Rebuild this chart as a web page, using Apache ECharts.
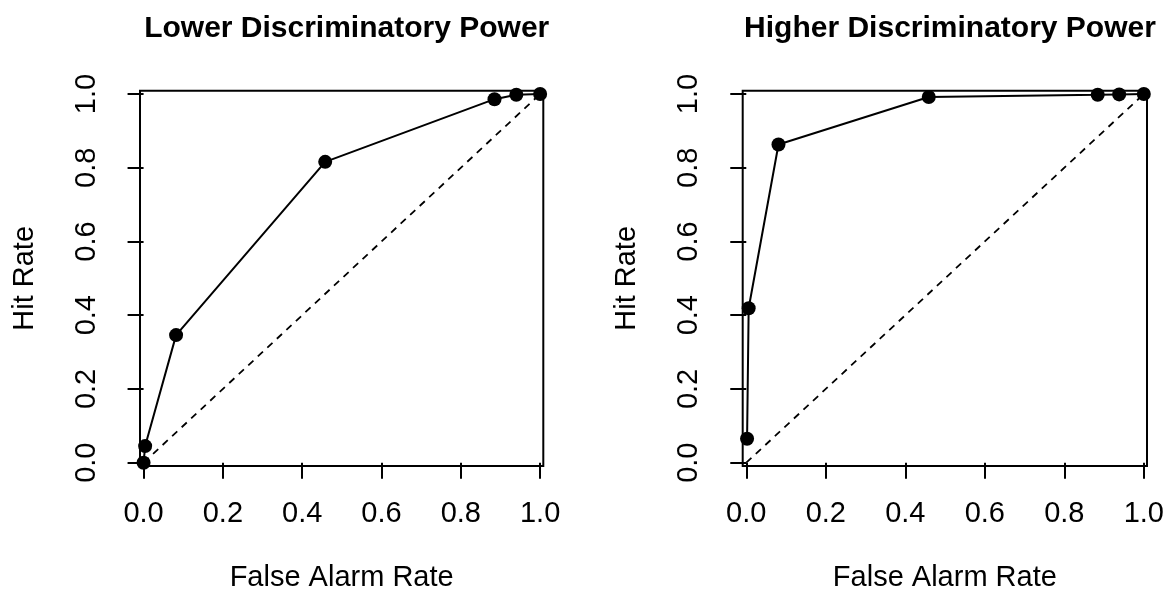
<!DOCTYPE html>
<html>
<head>
<meta charset="utf-8">
<script src="https://cdn.jsdelivr.net/npm/echarts@6/dist/echarts.min.js"></script>
<style>
	html, body { margin: 0; padding: 0; background: #fff; }
	#main { width: 1171px; height: 597px; }
</style>
</head>
<body>
<div id="main"></div>
<script>
	// ROC points, left panel
	var lowerFar = [0, 0.004, 0.082, 0.458, 0.885, 0.94, 1];
	var lowerHit = [0, 0.045, 0.346, 0.816, 0.986, 0.998, 1];

	// ROC points, right panel
	var higherFar = [0.002, 0.006, 0.081, 0.459, 0.884, 0.938, 1];
	var higherHit = [0.065, 0.419, 0.863, 0.992, 0.998, 0.999, 1];

	// chance diagonal
	var diagFar = [0, 1];
	var diagHit = [0, 1];

	var ticks = [0, 0.2, 0.4, 0.6, 0.8, 1.0];
	var titles = ['Lower Discriminatory Power', 'Higher Discriminatory Power'];
	var xName = 'False Alarm Rate';
	var yName = 'Hit Rate';

	var font = "'Liberation Sans', Arial, sans-serif";

	function pairs(xs, ys) {
		return xs.map(function (x, i) { return [x, ys[i]]; });
	}

	function xAxis(idx) {
		return {
			type: 'value',
			gridIndex: idx,
			min: -0.009,
			max: 1.008,
			name: xName,
			nameLocation: 'middle',
			nameGap: 97,
			nameTextStyle: { color: '#000', fontSize: 29, fontFamily: font },
			splitLine: { show: false },
			axisLine: { show: false },
			axisTick: {
				show: true,
				length: 16,
				customValues: ticks,
				lineStyle: { color: '#000', width: 2 }
			},
			axisLabel: {
				customValues: ticks,
				margin: 33,
				color: '#000',
				fontSize: 29,
				fontFamily: font,
				formatter: function (v) { return v.toFixed(1); }
			}
		};
	}

	function yAxis(idx) {
		return {
			type: 'value',
			gridIndex: idx,
			min: -0.009,
			max: 1.009,
			name: yName,
			nameLocation: 'middle',
			nameGap: 101,
			nameTextStyle: { color: '#000', fontSize: 29, fontFamily: font },
			splitLine: { show: false },
			axisLine: { show: false },
			axisTick: {
				show: true,
				length: 16,
				customValues: ticks,
				lineStyle: { color: '#000', width: 2 }
			},
			axisLabel: {
				customValues: ticks,
				rotate: 90,
				margin: 39,
				color: '#000',
				fontSize: 29,
				fontFamily: font,
				formatter: function (v) { return v.toFixed(1); }
			}
		};
	}

	function rocSeries(idx, data) {
		return {
			type: 'line',
			xAxisIndex: idx,
			yAxisIndex: idx,
			data: data,
			clip: false,
			symbol: 'circle',
			symbolSize: 14,
			itemStyle: { color: '#000' },
			lineStyle: { color: '#000', width: 2 },
			animation: false
		};
	}

	function diagSeries(idx) {
		return {
			type: 'line',
			xAxisIndex: idx,
			yAxisIndex: idx,
			data: pairs(diagFar, diagHit),
			showSymbol: false,
			lineStyle: { color: '#000', width: 1.8, type: [7, 6] },
			animation: false
		};
	}

	var option = {
		animation: false,
		//标题
		title: [
			{
				text: titles[0],
				left: 341.7,
				top: 9,
				textAlign: 'center',
				textStyle: { color: '#000', fontSize: 30, fontWeight: 'bold', fontFamily: font }
			},
			{
				text: titles[1],
				left: 945,
				top: 9,
				textAlign: 'center',
				textStyle: { color: '#000', fontSize: 30, fontWeight: 'bold', fontFamily: font }
			}
		],
		//网格
		grid: [
			{ left: 140, top: 90.7, width: 403.3, height: 375.3, show: true, borderColor: '#000', borderWidth: 2, backgroundColor: 'transparent' },
			{ left: 742.7, top: 90.7, width: 404.3, height: 375.3, show: true, borderColor: '#000', borderWidth: 2, backgroundColor: 'transparent' }
		],
		xAxis: [xAxis(0), xAxis(1)],
		yAxis: [yAxis(0), yAxis(1)],
		series: [
			diagSeries(0),
			rocSeries(0, pairs(lowerFar, lowerHit)),
			diagSeries(1),
			rocSeries(1, pairs(higherFar, higherHit))
		]
	};

	var chart = echarts.init(document.getElementById('main'));
	chart.setOption(option);
</script>
</body>
</html>
